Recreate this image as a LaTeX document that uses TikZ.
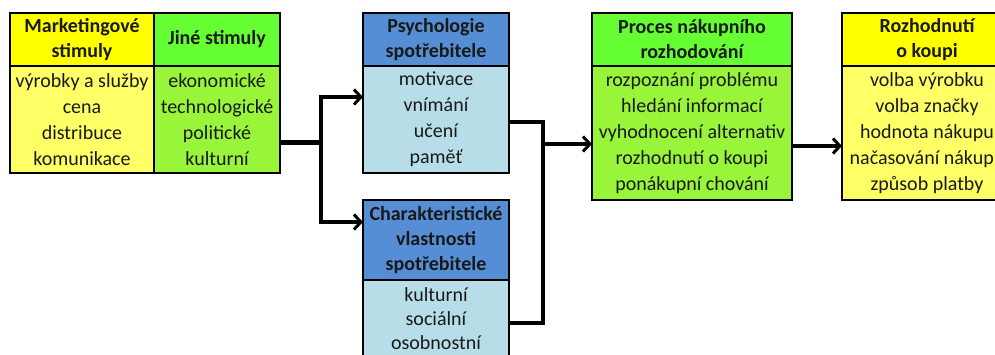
\documentclass[tikz,border=0pt]{standalone}
\usepackage{fontspec}
\setmainfont{Carlito}
\usetikzlibrary{arrows.meta}
\definecolor{hyel}{HTML}{FFFF00}
\definecolor{byel}{HTML}{FFFF66}
\definecolor{hgrn}{HTML}{66FF33}
\definecolor{bgrn}{HTML}{99F53A}
\definecolor{hblu}{HTML}{558ED5}
\definecolor{bblu}{HTML}{B7DEE8}
\tikzset{
  cell/.style={draw=black, line width=2.2pt, inner sep=0pt, outer sep=0pt, anchor=north west,
    align=center, font=\fontsize{20}{26}\selectfont, text=black!90},
  hcell/.style={cell, font=\fontsize{20}{25}\selectfont\bfseries},
  conn/.style={line width=3.6pt, line join=miter},
  arr/.style={conn, -{Straight Barb[length=7pt,width=15pt,line width=3pt]}}
}
\begin{document}
\begin{tikzpicture}[x=1pt,y=-1pt]
\path[use as bounding box] (0,0) rectangle (995,354);
\fill[white] (0,0) rectangle (995,354);
\clip (0,0) rectangle (995,354);
% left block
\node[hcell, fill=hyel, minimum width=144, minimum height=53] (mh) at (10,13) {Marketingové\\stimuly};
\node[hcell, fill=hgrn, minimum width=126, minimum height=53] (jh) at (154,13) {Jiné stimuly};
\node[cell, fill=byel, minimum width=144, minimum height=107] (mb) at (10,66) {výrobky a služby\\cena\\distribuce\\komunikace};
\node[cell, fill=bgrn, minimum width=126, minimum height=107] (jb) at (154,66) {ekonomické\\technologické\\politické\\kulturní};
% psychology
\node[hcell, fill=hblu, minimum width=146, minimum height=53] (ph) at (363,13) {Psychologie\\spotřebitele};
\node[cell, fill=bblu, minimum width=146, minimum height=107] (pb) at (363,66) {motivace\\vnímání\\učení\\paměť};
% characteristics
\node[hcell, fill=hblu, minimum width=146, minimum height=80] (ch) at (363,200) {Charakteristické\\vlastnosti\\spotřebitele};
\node[cell, fill=bblu, minimum width=146, minimum height=78, font=\fontsize{20}{24}\selectfont] (cb) at (363,280) {kulturní\\sociální\\osobnostní};
% process
\node[hcell, fill=hgrn, minimum width=200, minimum height=53] (prh) at (592,13) {Proces nákupního\\rozhodování};
\node[cell, fill=bgrn, minimum width=200, minimum height=134] (prb) at (592,66) {rozpoznání problému\\hledání informací\\vyhodnocení alternativ\\rozhodnutí o koupi\\ponákupní chování};
% decision
\node[hcell, fill=hyel, minimum width=170, minimum height=53] (dh) at (842,13) {Rozhodnutí\\o koupi};
\node[cell, fill=byel, minimum width=170, minimum height=134] (db) at (842,66) {volba výrobku\\volba značky\\hodnota nákupu\\načasování nákupu\\způsob platby};
% connectors
\coordinate (split) at (322,142);
\coordinate (merge) at (543,144);
\draw[line width=5pt] ([yshift=-22.5pt]jb.east) -- (split);
\draw[arr] ([xshift=-1pt]split) |- ([yshift=22.5pt]pb.west);
\draw[arr] ([xshift=-1pt]split) |- ([yshift=18pt]ch.west);
\draw[conn] ([yshift=-2.5pt]pb.east) -| (merge) |- ([yshift=-4pt]cb.east);
\draw[arr] (merge) -- ([yshift=-11pt]prb.west);
\draw[arr] ([yshift=-13pt]prb.east) -- ([yshift=-13pt]db.west);
\end{tikzpicture}
\end{document}
